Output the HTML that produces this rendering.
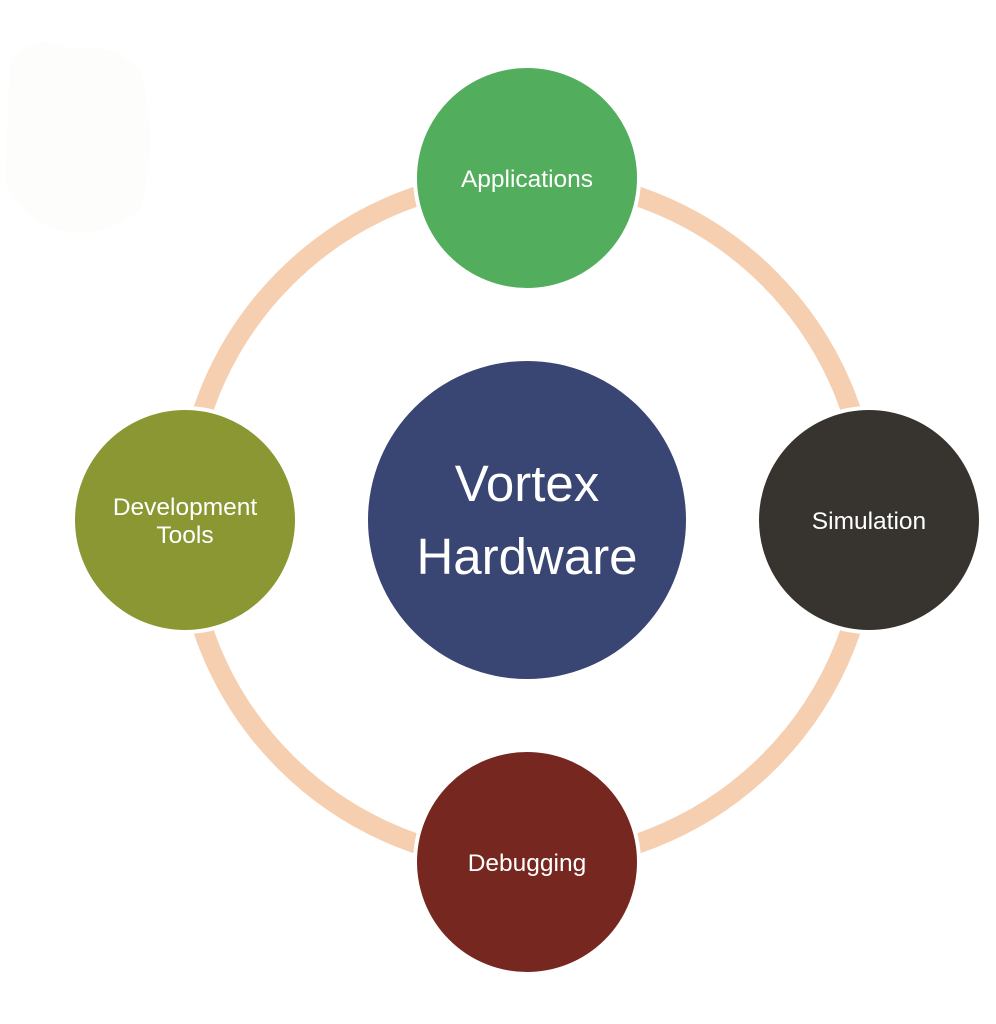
<!DOCTYPE html>
<html><head><style>
html,body{margin:0;padding:0;background:#fff;}
</style></head><body>
<svg width="996" height="1024" viewBox="0 0 996 1024" xmlns="http://www.w3.org/2000/svg" style="display:block">
<rect width="996" height="1024" fill="#fff"/>
<path d="M10 60 Q40 30 70 50 Q110 40 140 70 Q160 140 140 210 Q100 240 60 230 Q20 220 5 180 Z" fill="#fdfdfb"/>
<circle cx="527" cy="520" r="342" fill="none" stroke="#f5cfb0" stroke-width="20"/>
<circle cx="527" cy="520" r="159" fill="#394572"/>
<g stroke="#fff" stroke-width="4">
<circle cx="527" cy="178" r="112" fill="#52ad5c"/>
<circle cx="869" cy="520" r="112" fill="#37342f"/>
<circle cx="527" cy="862" r="112" fill="#76271f"/>
<circle cx="185" cy="520" r="112" fill="#8a9733"/>
</g>
<g font-family="Liberation Sans, sans-serif" fill="#fff" text-anchor="middle">
<text x="527" y="501" font-size="51">Vortex</text>
<text x="527" y="574" font-size="51">Hardware</text>
<text x="527" y="187" font-size="24.5">Applications</text>
<text x="869" y="529" font-size="24.5">Simulation</text>
<text x="527" y="871" font-size="24.5">Debugging</text>
<text x="185" y="515" font-size="24.5">Development</text>
<text x="185" y="543" font-size="24.5">Tools</text>
</g>
</svg>
</body></html>
